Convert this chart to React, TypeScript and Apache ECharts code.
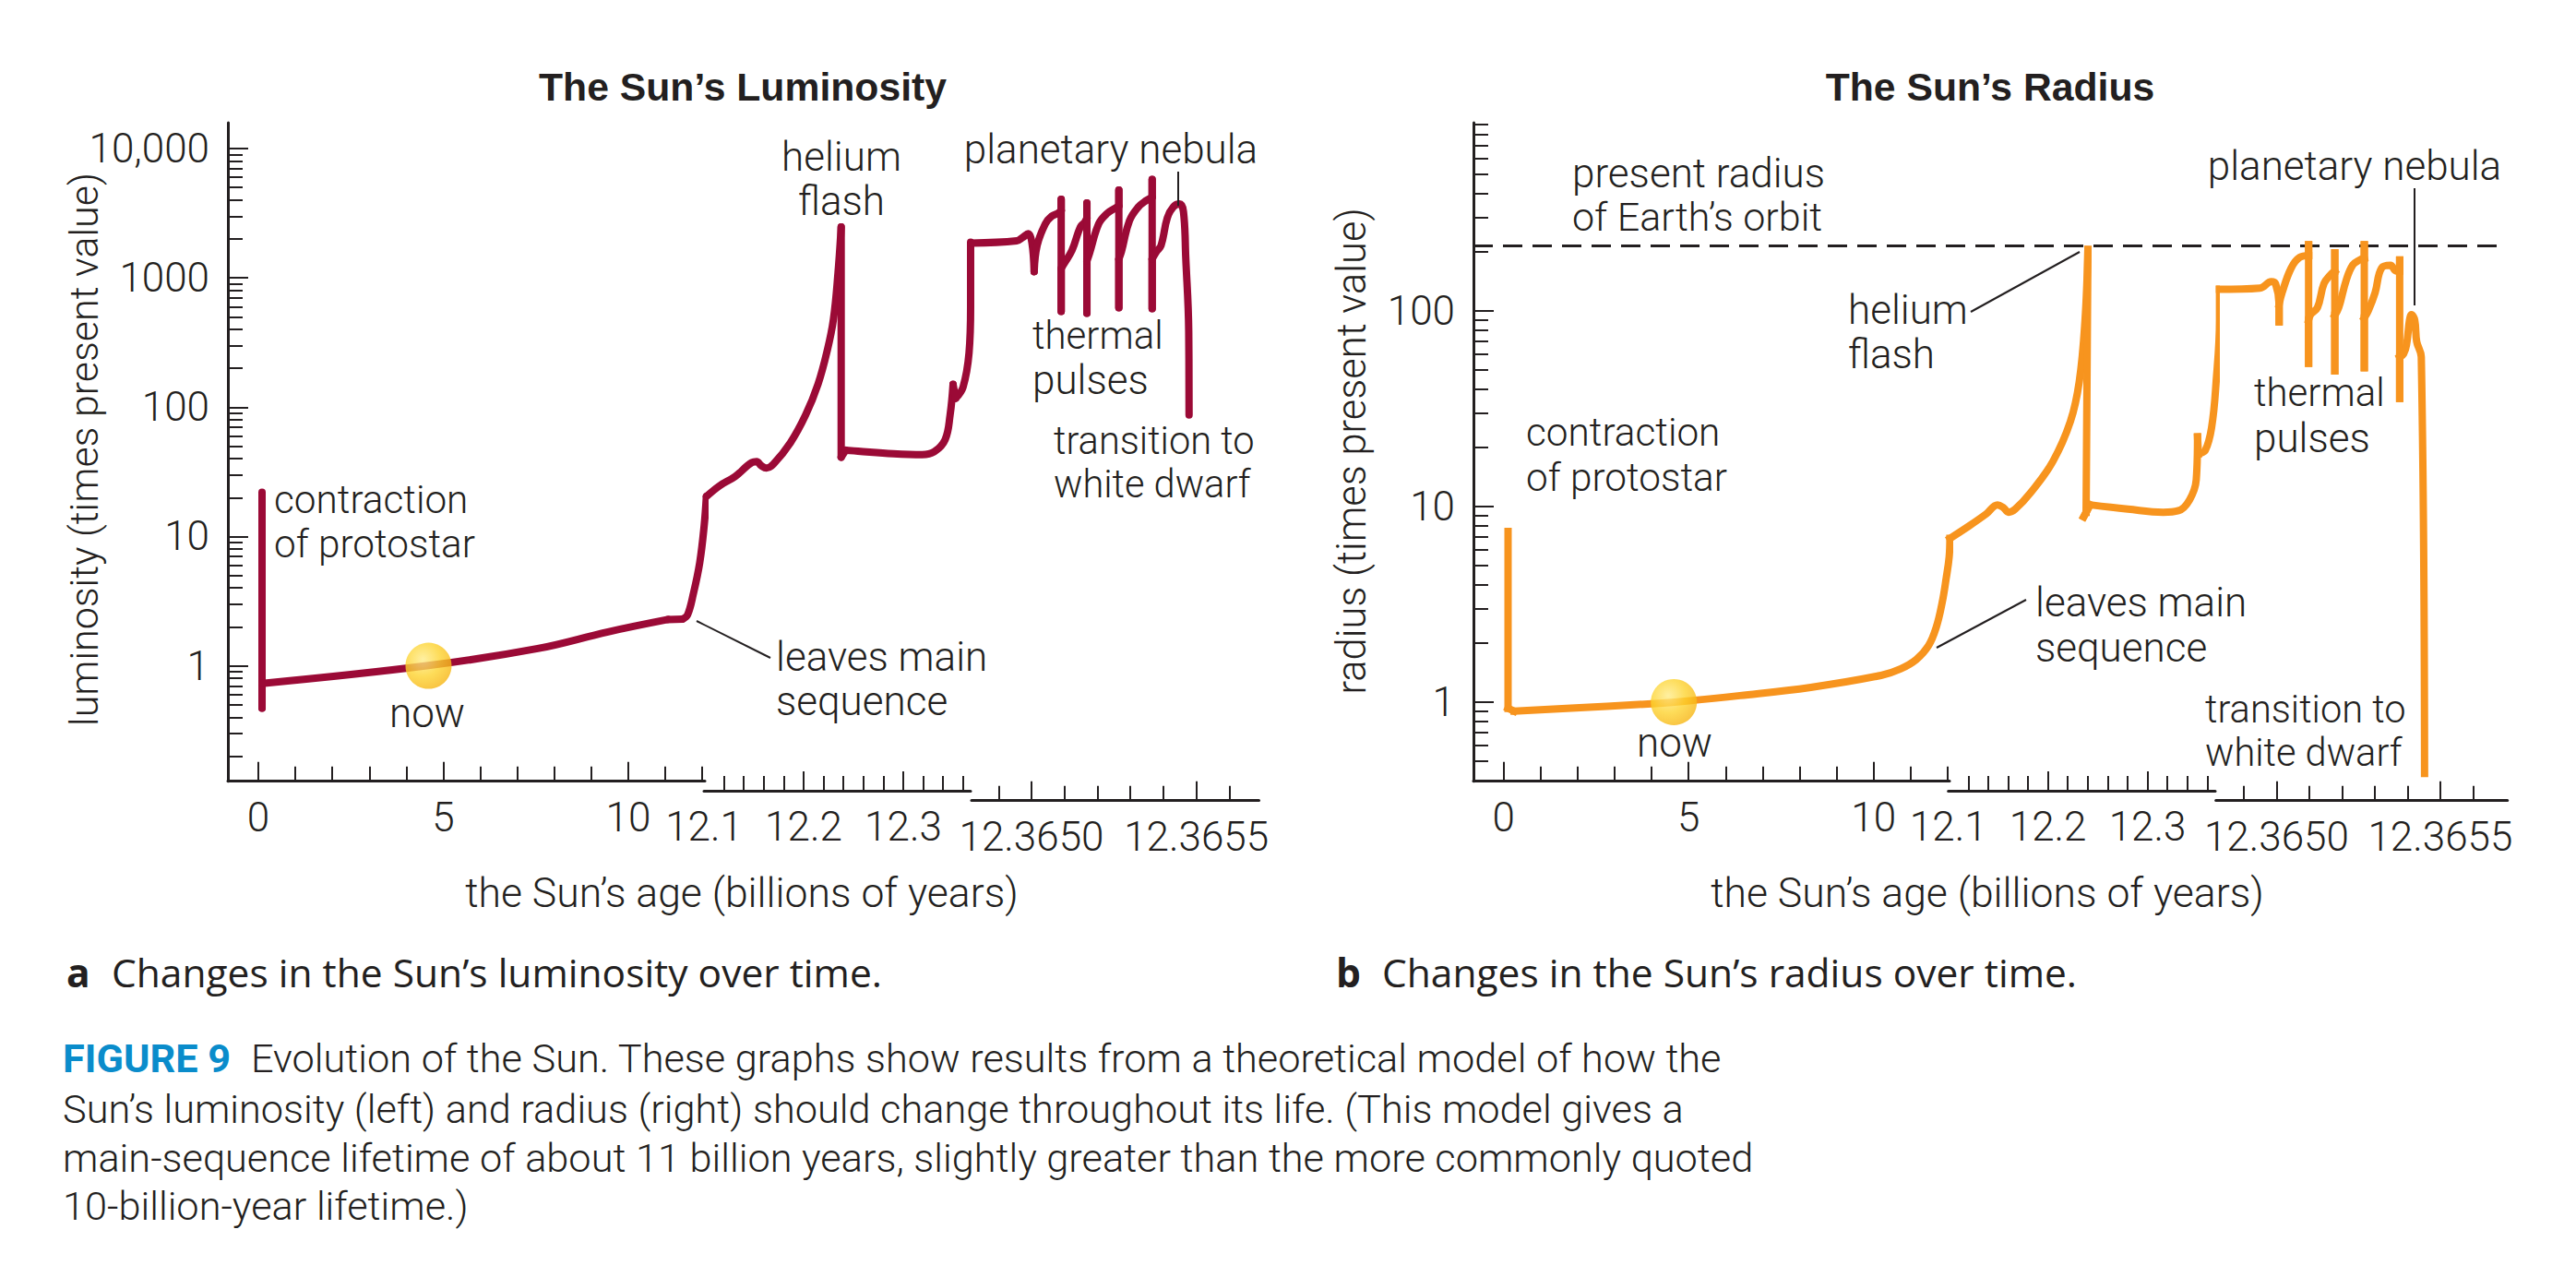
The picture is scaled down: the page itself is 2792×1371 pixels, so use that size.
import React, { useEffect, useRef } from "react";
import * as echarts from "echarts";

const INK = "#231f20";
const FONT = "Roboto";

// ---------- luminosity, three pieces of the broken age axis
const lumAgeA = [0.1, 0.1, 0.1, 4.55, 7.55, 9.45, 11.07, 11.47, 11.6, 11.76, 11.93, 12.05, 12.11];
const lumValA = [22, 0.47, 0.73, 1.0, 1.36, 1.83, 2.28, 2.3, 2.47, 3.63, 6.28, 12.1, 20.4];
const lumCornersA = [1, 2, 6, 7];
const lumAgeB = [12.1025, 12.1157, 12.1312, 12.1481, 12.1528, 12.1574, 12.1627, 12.1697, 12.1868, 12.2021, 12.2145, 12.2238, 12.2299, 12.2345, 12.2377, 12.2377, 12.2423, 12.2546, 12.29, 12.319, 12.331, 12.342, 12.347, 12.35, 12.3525, 12.36, 12.366, 12.3676, 12.3676];
const lumValB = [20.4, 24.7, 29.1, 37.3, 37.9, 35.3, 33.8, 36.3, 53.2, 87.3, 151, 276, 477, 1086, 2472, 41.1, 46.5, 45.7, 43.7, 43, 45.2, 56, 87, 150, 117, 143, 262, 597, 1888];
const lumCornersB = [14, 15, 16, 23, 24];
const lumAgeC = [12.364817, 12.364955, 12.364973, 12.36499, 12.365001, 12.365008, 12.365017, 12.365042, 12.365061, 12.36508, 12.36509, 12.36509, 12.36509, 12.36509, 12.365098, 12.365123, 12.365148, 12.365161, 12.365168, 12.365168, 12.365168, 12.365168, 12.365176, 12.365204, 12.36523, 12.365255, 12.365265, 12.365265, 12.365265, 12.365265, 12.365273, 12.365297, 12.365324, 12.365348, 12.365366, 12.365366, 12.365366, 12.365366, 12.365379, 12.365393, 12.365412, 12.36543, 12.365449, 12.365461, 12.365468, 12.365477, 12.365478];
const lumValC = [1858, 1932, 2051, 2193, 1888, 1117, 1778, 2626, 2994, 3162, 3320, 4046, 551, 1180, 1279, 1637, 2472, 2683, 2900, 3790, 532, 1350, 1552, 2626, 3162, 3475, 3600, 4775, 588, 1400, 1603, 2760, 3532, 3963, 4200, 5781, 578, 1400, 1596, 1778, 2911, 3532, 3727, 3251, 1430, 384, 87];
const lumCornersC = [5, 10, 11, 12, 13, 18, 19, 20, 21, 26, 27, 28, 29, 34, 35, 36, 37];

// ---------- radius
const radAgeA = [0.12, 0.12, 0.28, 4.0, 4.62, 6.39, 8.3, 10.2, 10.73, 11.15, 11.48, 11.69, 11.85, 11.96, 12.04, 12.06];
const radValA = [7.45, 0.93, 0.9, 0.98, 1.0, 1.08, 1.19, 1.37, 1.48, 1.65, 1.94, 2.41, 3.22, 4.3, 5.53, 6.87];
const radCornersA = [1, 2];
const radAgeB = [12.1016, 12.1207, 12.1382, 12.1494, 12.1552, 12.1605, 12.1672, 12.1828, 12.205, 12.2226, 12.2315, 12.2373, 12.2402, 12.2384, 12.236, 12.2426, 12.2803, 12.3158, 12.3312, 12.3422, 12.349, 12.3503, 12.3512, 12.3579, 12.3644, 12.369, 12.3724, 12.3724];
const radValB = [6.87, 7.95, 9.18, 10.2, 9.88, 9.35, 9.7, 11.8, 17, 27.2, 43.5, 89.7, 206, 9.35, 8.86, 10.2, 9.7, 9.35, 9.53, 10.8, 13.7, 22.7, 18.6, 19.3, 25.3, 43.5, 89.7, 129];
const radCornersB = [12, 13, 14, 15, 21, 22];
const radAgeC = [12.364826, 12.36495, 12.364984, 12.364997, 12.365008, 12.365008, 12.365008, 12.365017, 12.365045, 12.365071, 12.365098, 12.365098, 12.365098, 12.365098, 12.365105, 12.365125, 12.365145, 12.365166, 12.365178, 12.365178, 12.365178, 12.365178, 12.36519, 12.365213, 12.365233, 12.365253, 12.365268, 12.365268, 12.365268, 12.365268, 12.36528, 12.365301, 12.365321, 12.365348, 12.365365, 12.365376, 12.365376, 12.365376, 12.365376, 12.365388, 12.365397, 12.365406, 12.365412, 12.365422, 12.365428, 12.365442, 12.365452];
const radValC = [129, 131, 141, 138, 108, 88, 108, 124, 166, 188, 192, 218, 54, 90, 96.4, 104, 138, 154, 160, 198, 49.4, 95, 104, 144, 172, 182, 186, 218, 51.3, 92, 100, 124, 166, 171, 160, 160, 182, 35.7, 58, 60.3, 67.2, 89.7, 95.8, 89.7, 69.7, 58.2, 0.432];
const radCornersC = [5, 6, 10, 11, 12, 13, 18, 19, 20, 21, 26, 27, 28, 29, 35, 36, 37, 38];

const nowAge = 4.6;
const nowValue = 1;
const earthOrbitRadius = 215;

// ---------- ticks
const lumMajor = [1, 10, 100, 1000, 10000];
const lumMinor = [0.2, 0.3, 0.4, 0.5, 0.6, 0.7, 0.8, 0.9, 2, 3, 4, 5, 6, 7, 8, 9, 20, 30, 40, 50, 60, 70, 80, 90, 200, 300, 400, 500, 600, 700, 800, 900, 2000, 3000, 4000, 5000, 6000, 7000, 8000, 9000];
const radMajor = [1, 10, 100];
const radMinor = [0.5, 0.6, 0.7, 0.8, 0.9, 2, 3, 4, 5, 6, 7, 8, 9, 20, 30, 40, 50, 60, 70, 80, 90, 200, 300, 400, 500, 600, 700, 800, 900];
const ageMajorA = [0, 5, 10];
const ageMinorA = [1, 2, 3, 4, 6, 7, 8, 9, 11, 12];
const ageLabelsB = [12.1, 12.2, 12.3];
const ageMajorB = [12.2, 12.3];
const ageMinorB = [12.12, 12.14, 12.16, 12.18, 12.22, 12.24, 12.26, 12.28, 12.32, 12.34, 12.36];
const ageMajorC = [12.365, 12.3655];
const ageMinorC = [12.3649, 12.3651, 12.3652, 12.3653, 12.3654, 12.3656];

const TOP = 133;
const HEIGHT = 713.7;
const AXIS_FONT = 44;

type Piece = { left: number; width: number; min: number; max: number; offset: number; major: number[]; minor: number[]; labels: number[]; digits: number; age: number[]; val: number[]; corners: number[] };

function buildPanel(opt: any, p: { yMin: number; yMax: number; yMajor: number[]; yMinor: number[]; color: string; cap: string; pieces: Piece[] }) {
  p.pieces.forEach((s, i) => {
    const g = opt.grid.length;
    opt.grid.push({ left: s.left, top: TOP, width: s.width, height: HEIGHT, containLabel: false });
    const xCommon = { type: "value", gridIndex: g, min: s.min, max: s.max, position: "bottom", offset: s.offset, splitLine: { show: false } };
    const xMain = opt.xAxis.length;
    opt.xAxis.push({
      ...xCommon,
      axisLine: { show: true, onZero: false, lineStyle: { color: INK, width: 3 } },
      axisTick: { show: true, inside: true, length: 21, customValues: s.major, lineStyle: { color: INK, width: 2 } },
      axisLabel: { show: true, customValues: s.labels, margin: 17, color: INK, fontFamily: FONT, fontWeight: 300, fontSize: AXIS_FONT, formatter: (v: number) => v.toFixed(s.digits), hideOverlap: false, showMinLabel: true, showMaxLabel: true },
    });
    opt.xAxis.push({
      ...xCommon,
      axisLine: { show: false, onZero: false },
      axisTick: { show: true, inside: true, length: 16, customValues: s.minor, lineStyle: { color: INK, width: 2 } },
      axisLabel: { show: false },
    });
    const yMain = opt.yAxis.length;
    opt.yAxis.push({
      type: "log", logBase: 10, gridIndex: g, min: p.yMin, max: p.yMax, position: "left", splitLine: { show: false }, minorTick: { show: false },
      axisLine: { show: i === 0, onZero: false, lineStyle: { color: INK, width: 3 } },
      axisTick: { show: i === 0, inside: true, length: 22, customValues: p.yMajor, lineStyle: { color: INK, width: 2 } },
      axisLabel: i === 0
        ? { show: true, customValues: p.yMajor, margin: 20, color: INK, fontFamily: FONT, fontWeight: 300, fontSize: AXIS_FONT, formatter: (v: number) => { const r = Math.round(v); return r === 10000 ? "10,000" : String(r); } }
        : { show: false },
    });
    if (i === 0) {
      opt.yAxis.push({
        type: "log", logBase: 10, gridIndex: g, min: p.yMin, max: p.yMax, position: "left", splitLine: { show: false },
        axisLine: { show: false, onZero: false },
        axisTick: { show: true, inside: true, length: 16, customValues: p.yMinor, lineStyle: { color: INK, width: 2 } },
        axisLabel: { show: false },
      });
    }
    // the curve is smooth between its sharp corners (spikes, kinks), so each stretch is its own series
    const cuts = [0, ...s.corners, s.age.length - 1];
    for (let c = 0; c + 1 < cuts.length; c++) {
      const data: number[][] = [];
      for (let k = cuts[c]; k <= cuts[c + 1]; k++) data.push([s.age[k], s.val[k]]);
      opt.series.push({
        type: "line", xAxisIndex: xMain, yAxisIndex: yMain, data, showSymbol: false, symbol: "none",
        smooth: data.length > 2 ? 0.4 : false, clip: false, z: 3,
        lineStyle: { color: p.color, width: 8, cap: p.cap, join: "round" },
      });
    }
    if (i === 0) {
      opt.series.push({
        type: "scatter", xAxisIndex: xMain, yAxisIndex: yMain, data: [[nowAge, nowValue]], symbol: "circle", symbolSize: 50, z: 5, clip: false,
        itemStyle: { color: { type: "radial", x: 0.38, y: 0.36, r: 0.68, colorStops: [{ offset: 0, color: "#ffec8a" }, { offset: 0.55, color: "#fdd32f" }, { offset: 1, color: "#f7b512" }] } },
      });
    }
  });
}

// one line of text per row: text, x, y, align, size
const chartTexts: [string, number, number, string, number][] = [
  ["helium", 912, 170, "center", 44], ["flash", 912, 218, "center", 44],
  ["planetary nebula", 1204, 162, "center", 44],
  ["thermal", 1119, 363, "left", 42], ["pulses", 1119, 412, "left", 44],
  ["transition to", 1142, 477, "left", 41.6], ["white dwarf", 1142, 524, "left", 41.6],
  ["contraction", 297, 541, "left", 42.3], ["of protostar", 297, 589, "left", 42.3],
  ["now", 463, 773, "center", 44],
  ["leaves main", 841, 712, "left", 44], ["sequence", 841, 760, "left", 44],
  ["the Sun\u2019s age (billions of years)", 804, 968, "center", 44.5],
  ["present radius", 1704, 188, "left", 44], ["of Earth\u2019s orbit", 1704, 235, "left", 43],
  ["planetary nebula", 2552, 180, "center", 44],
  ["helium", 2003, 336, "left", 44], ["flash", 2003, 384, "left", 44],
  ["thermal", 2443, 425, "left", 42], ["pulses", 2443, 475, "left", 44],
  ["contraction", 1654, 468, "left", 42.3], ["of protostar", 1654, 517, "left", 42.3],
  ["now", 1815, 805, "center", 44],
  ["leaves main", 2206, 653, "left", 44], ["sequence", 2206, 702, "left", 44],
  ["transition to", 2390, 768, "left", 41.6], ["white dwarf", 2390, 815, "left", 41.6],
  ["the Sun\u2019s age (billions of years)", 2154, 968, "center", 44.5],
];
const leaderLines: [number, number, number, number][] = [
  [1277, 186, 1277, 223],
  [755, 673, 835, 713],
  [2617, 204, 2617, 331],
  [2136, 338, 2254, 273],
  [2196, 650, 2099, 702],
];
const captionLines = [
  "Sun\u2019s luminosity (left) and radius (right) should change throughout its life. (This model gives a",
  "main-sequence lifetime of about 11 billion years, slightly greater than the more commonly quoted",
  "10-billion-year lifetime.)",
];

export default function App() {
  const ref = useRef<HTMLDivElement>(null);
  useEffect(() => {
    const chart = echarts.init(ref.current!, undefined, { renderer: "svg" });
    const opt: any = { animation: false, backgroundColor: "#fff", grid: [], xAxis: [], yAxis: [], series: [], graphic: [] };

    buildPanel(opt, {
      yMin: 0.128, yMax: 15849, yMajor: lumMajor, yMinor: lumMinor, color: "#9b0a36", cap: "round",
      pieces: [
        { left: 247, width: 517, min: -0.823, max: 12.07, offset: 0, major: ageMajorA, minor: ageMinorA, labels: ageMajorA, digits: 0, age: lumAgeA, val: lumValA, corners: lumCornersA },
        { left: 763, width: 289, min: 12.1, max: 12.3676, offset: 10.3, major: ageMajorB, minor: ageMinorB, labels: ageLabelsB, digits: 1, age: lumAgeB, val: lumValB, corners: lumCornersB },
        { left: 1053, width: 311.5, min: 12.364818, max: 12.36569, offset: 21, major: ageMajorC, minor: ageMinorC, labels: ageMajorC, digits: 4, age: lumAgeC, val: lumValC, corners: lumCornersC },
      ],
    });
    buildPanel(opt, {
      yMin: 0.394, yMax: 917, yMajor: radMajor, yMinor: radMinor, color: "#f7941e", cap: "square",
      pieces: [
        { left: 1597, width: 516, min: -0.815, max: 12.05, offset: 0, major: ageMajorA, minor: ageMinorA, labels: ageMajorA, digits: 0, age: radAgeA, val: radValA, corners: radCornersA },
        { left: 2111.7, width: 289.3, min: 12.1, max: 12.3681, offset: 10.3, major: ageMajorB, minor: ageMinorB, labels: ageLabelsB, digits: 1, age: radAgeB, val: radValB, corners: radCornersB },
        { left: 2401.7, width: 316, min: 12.364815, max: 12.365705, offset: 21, major: ageMajorC, minor: ageMinorC, labels: ageMajorC, digits: 4, age: radAgeC, val: radValC, corners: radCornersC },
      ],
    });

    // overlay for the dashed Earth-orbit level, on the radius panel's log scale
    const og = opt.grid.length;
    opt.grid.push({ left: 1597, top: TOP, width: 1110, height: HEIGHT });
    const ox = opt.xAxis.length;
    opt.xAxis.push({ type: "value", gridIndex: og, min: 0, max: 1, show: false });
    const oy = opt.yAxis.length;
    opt.yAxis.push({ type: "log", logBase: 10, gridIndex: og, min: 0.394, max: 917, show: false });
    opt.series.push({
      type: "line", xAxisIndex: ox, yAxisIndex: oy, data: [[0, earthOrbitRadius], [1, earthOrbitRadius]], showSymbol: false, symbol: "none", z: 2,
      lineStyle: { color: INK, width: 3, type: [21, 11] },
    });

    const base = { fill: INK, fontFamily: FONT, fontWeight: 300, fontSize: AXIS_FONT, textVerticalAlign: "middle" };
    opt.graphic.push(
      { type: "text", z: 10, style: { ...base, text: "The Sun\u2019s Luminosity", x: 805, y: 94, textAlign: "center", fontFamily: "Liberation Sans", fontWeight: 700, fontSize: 42.7 } },
      { type: "text", z: 10, style: { ...base, text: "The Sun\u2019s Radius", x: 2157, y: 94, textAlign: "center", fontFamily: "Liberation Sans", fontWeight: 700, fontSize: 42.7 } },
      { type: "text", z: 10, rotation: Math.PI / 2, x: 91, y: 487, style: { ...base, text: "luminosity (times present value)", x: 0, y: 0, textAlign: "center", fontSize: 43 } },
      { type: "text", z: 10, rotation: Math.PI / 2, x: 1465, y: 489, style: { ...base, text: "radius (times present value)", x: 0, y: 0, textAlign: "center", fontSize: 43.5 } },
    );
    chartTexts.forEach(([text, x, y, textAlign, fontSize]) => {
      opt.graphic.push({ type: "text", z: 10, style: { ...base, text, x, y, textAlign, fontSize } });
    });
    leaderLines.forEach(([x1, y1, x2, y2]) => {
      opt.graphic.push({ type: "line", z: 10, shape: { x1, y1, x2, y2 }, style: { stroke: INK, lineWidth: 2 } });
    });

    const cap = { fill: INK, fontFamily: "Open Sans", fontSize: 42.5, textVerticalAlign: "middle", textAlign: "left" };
    const body = { ...base, fontSize: 43.3 };
    opt.graphic.push(
      { type: "text", style: { ...cap, text: "a", x: 72, y: 1053, fontWeight: 700 } },
      { type: "text", style: { ...cap, text: "Changes in the Sun\u2019s luminosity over time.", x: 121, y: 1053 } },
      { type: "text", style: { ...cap, text: "b", x: 1448, y: 1053, fontWeight: 700 } },
      { type: "text", style: { ...cap, text: "Changes in the Sun\u2019s radius over time.", x: 1498, y: 1053 } },
      { type: "text", style: { ...body, text: "FIGURE 9", x: 68, y: 1147, fontWeight: 700, fill: "#0a8ccb" } },
      { type: "text", style: { ...body, text: "Evolution of the Sun. These graphs show results from a theoretical model of how the", x: 272, y: 1147 } },
    );
    captionLines.forEach((text, i) => {
      opt.graphic.push({ type: "text", style: { ...body, text, x: 68, y: [1202, 1255, 1307][i] } });
    });

    chart.setOption(opt);
    return () => chart.dispose();
  }, []);
  return <div ref={ref} style={{ position: "absolute", left: 0, top: 0, width: 2792, height: 1371 }} />;
}
